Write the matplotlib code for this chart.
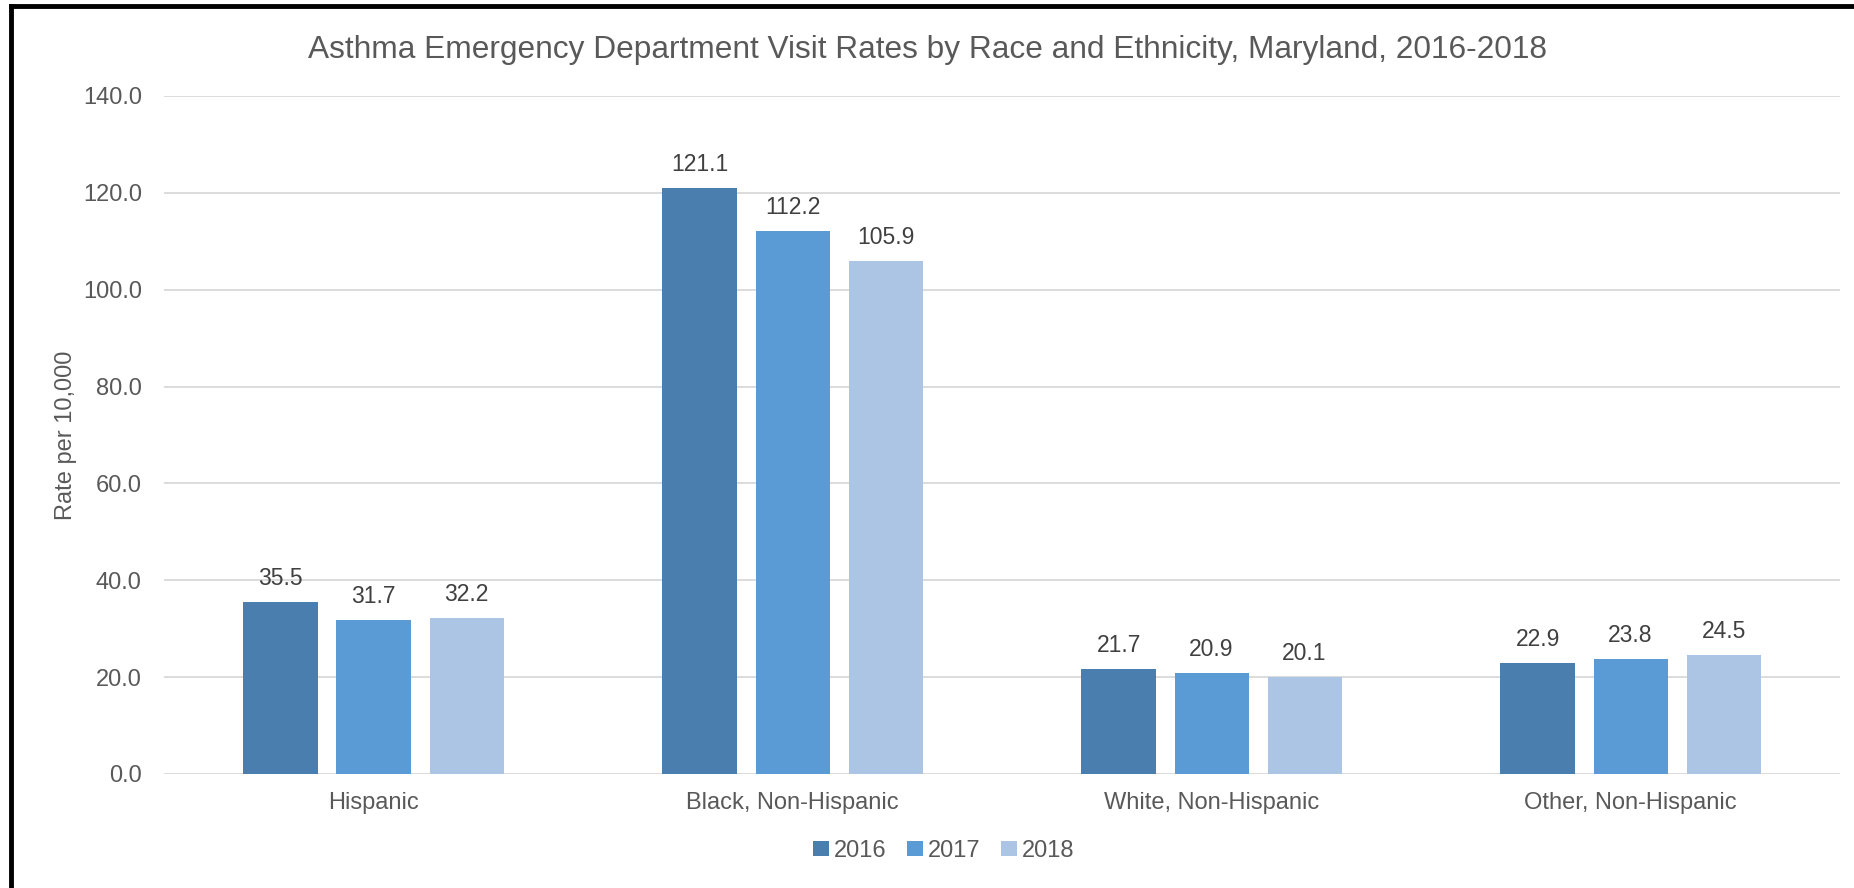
import matplotlib
matplotlib.use('Agg')
import matplotlib.pyplot as plt
from matplotlib.lines import Line2D
import numpy as np

plt.rcParams['font.family'] = ['Liberation Sans', 'DejaVu Sans']

categories = ['Hispanic', 'Black, Non-Hispanic', 'White, Non-Hispanic', 'Other, Non-Hispanic']
years = ['2016', '2017', '2018']
rates_2016 = [35.5, 121.1, 21.7, 22.9]
rates_2017 = [31.7, 112.2, 20.9, 23.8]
rates_2018 = [32.2, 105.9, 20.1, 24.5]
yticks = [0, 20, 40, 60, 80, 100, 120, 140]

colors = ['#4A7EAE', '#5B9BD5', '#ADC5E5']
text_grey = '#595959'

fig = plt.figure(figsize=(18.54, 8.88), dpi=100)
ax = fig.add_axes([0.0885, 0.1284, 0.904, 0.7635])

x = np.arange(len(categories))
width = 0.177
step = 0.222
for i, (vals, yr) in enumerate(zip([rates_2016, rates_2017, rates_2018], years)):
    bars = ax.bar(x + (i - 1) * step, vals, width, color=colors[i], label=yr, zorder=3)
    for b, v in zip(bars, vals):
        ax.annotate(f'{v:.1f}', (b.get_x() + b.get_width() / 2, v),
                    xytext=(0, 12), textcoords='offset pixels',
                    ha='center', va='bottom', fontsize=16.5, color='#404040')

ax.set_xlim(-0.5, len(categories) - 0.5)
ax.set_ylim(0, 140)
ax.set_yticks(yticks)
ax.set_yticklabels([f'{v:.1f}' for v in yticks])
ax.set_xticks(x)
ax.set_xticklabels(categories)
ax.tick_params(axis='both', length=0, labelsize=17, labelcolor=text_grey)
ax.tick_params(axis='y', pad=16)
ax.tick_params(axis='x', pad=13)
ax.grid(axis='y', color='#D9D9D9', linewidth=1.3, zorder=0)
for s in ax.spines.values():
    s.set_visible(False)

ax.set_ylabel('Rate per 10,000', fontsize=17, color=text_grey)
ax.yaxis.set_label_coords(-0.052, 0.5)

fig.text(0.5, 0.944, 'Asthma Emergency Department Visit Rates by Race and Ethnicity, Maryland, 2016-2018',
         ha='center', va='center', fontsize=22.8, color=text_grey)

fig.legend(loc='center', bbox_to_anchor=(0.509, 0.042), ncol=3, frameon=False,
           fontsize=17, labelcolor=text_grey, handlelength=0.65, handleheight=0.65,
           handletextpad=0.2, columnspacing=0.9)

# outer frame (left and top edges visible)
fig.add_artist(Line2D([0.0060, 0.0060], [0.0, 0.9935], color='black', linewidth=3.5,
                      transform=fig.transFigure))
fig.add_artist(Line2D([0.0060, 1.0], [0.9935, 0.9935], color='black', linewidth=3.5,
                      transform=fig.transFigure))

fig.savefig('out.png', dpi=100, facecolor='white')
